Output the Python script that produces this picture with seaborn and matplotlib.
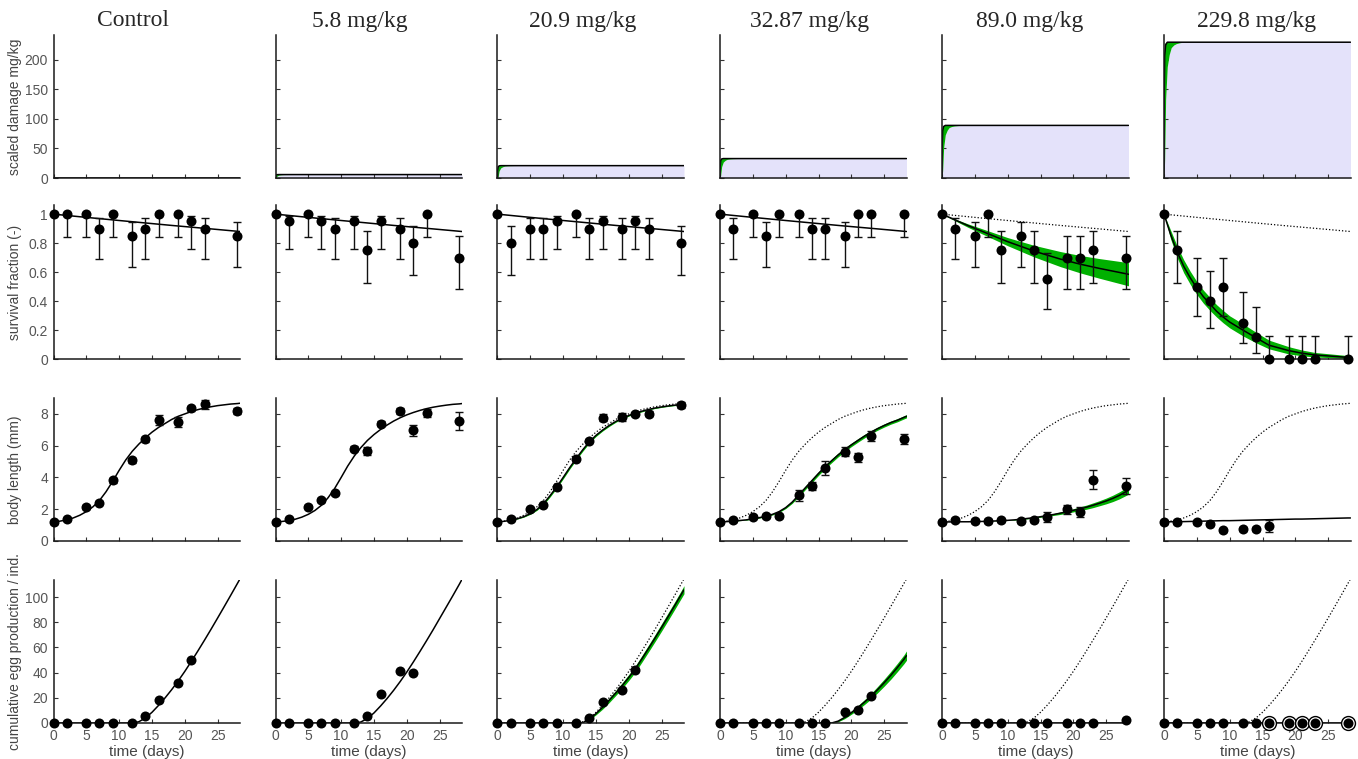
import numpy as np
import pandas as pd
import matplotlib
matplotlib.use("Agg")
import matplotlib.pyplot as plt
import seaborn as sns

titles = ["Control", "5.8 mg/kg", "20.9 mg/kg", "32.87 mg/kg", "89.0 mg/kg", "229.8 mg/kg"]
doses = [0, 5.8, 20.9, 32.87, 89.0, 229.8]
ylabels = ["scaled damage mg/kg", "survival fraction (-)", "body length (mm)",
           "cumulative egg production / ind."]

t_obs = [0, 2, 5, 7, 9, 12, 14, 16, 19, 21, 23, 28]

# ---- scaled damage (fraction of exposure level) ----
t_dam = [0, 0.03, 0.1, 0.25, 0.5, 0.8, 1.1, 1.5, 1.9, 2.5, 3.1, 28.4]
dam_mid = [0, 0.6, 0.9, 0.98, 1, 1, 1, 1, 1, 1, 1, 1]
dam_lo = [0, 0.03, 0.14, 0.58, 0.82, 0.91, 0.96, 0.98, 0.99, 0.997, 1, 1]
dam_hi = [0, 0.9, 0.99, 1, 1, 1, 1, 1, 1, 1, 1, 1]

# ---- survival ----
t_sm = [0, 2, 4, 7, 10, 14, 18, 21, 24, 28.4]
surv_bg = [1.0, 0.991, 0.982, 0.969, 0.956, 0.939, 0.922, 0.91, 0.898, 0.88]
surv_89_mod = [1, 0.96, 0.92, 0.865, 0.81, 0.745, 0.69, 0.655, 0.625, 0.585]
surv_89_lo = [1, 0.954, 0.908, 0.845, 0.782, 0.705, 0.638, 0.595, 0.557, 0.505]
surv_89_hi = [1, 0.966, 0.932, 0.885, 0.838, 0.785, 0.742, 0.715, 0.693, 0.665]
t_s229 = [0, 1, 2, 3, 4, 5, 6, 7, 8, 9, 10, 12, 14, 16, 19, 21, 23, 28.4]
surv_229_mod = [1, 0.86, 0.74, 0.64, 0.56, 0.49, 0.43, 0.38, 0.33, 0.29, 0.255, 0.2,
                0.147, 0.095, 0.058, 0.04, 0.028, 0.01]
surv_229_lo = [1, 0.83, 0.70, 0.595, 0.515, 0.445, 0.385, 0.335, 0.29, 0.25, 0.215, 0.16,
               0.112, 0.07, 0.035, 0.022, 0.014, 0.003]
surv_229_hi = [1, 0.89, 0.78, 0.685, 0.605, 0.535, 0.475, 0.425, 0.375, 0.335, 0.298,
               0.243, 0.185, 0.13, 0.085, 0.062, 0.045, 0.022]

surv_obs = [
    [1, 1, 1, 0.9, 1, 0.85, 0.9, 1, 1, 0.95, 0.9, 0.85],
    [1, 0.95, 1, 0.95, 0.9, 0.95, 0.75, 0.95, 0.9, 0.8, 1, 0.7],
    [1, 0.8, 0.9, 0.9, 0.95, 1, 0.9, 0.95, 0.9, 0.95, 0.9, 0.8],
    [1, 0.9, 1, 0.85, 1, 1, 0.9, 0.9, 0.85, 1, 1, 1],
    [1, 0.9, 0.85, 1, 0.75, 0.85, 0.75, 0.55, 0.7, 0.7, 0.75, 0.7],
    [1, 0.75, 0.5, 0.4, 0.5, 0.25, 0.15, 0, 0, 0, 0, 0],
]
surv_lo = [
    [1, 0.84, 0.84, 0.69, 0.84, 0.635, 0.69, 0.84, 0.84, 0.76, 0.69, 0.635],
    [1, 0.76, 0.84, 0.76, 0.69, 0.76, 0.528, 0.76, 0.69, 0.58, 0.84, 0.48],
    [1, 0.58, 0.69, 0.69, 0.76, 0.84, 0.69, 0.76, 0.69, 0.76, 0.69, 0.58],
    [1, 0.69, 0.84, 0.635, 0.84, 0.84, 0.69, 0.69, 0.635, 0.84, 0.84, 0.84],
    [1, 0.69, 0.635, 0.84, 0.528, 0.635, 0.528, 0.342, 0.48, 0.48, 0.528, 0.48],
    [1, 0.528, 0.295, 0.214, 0.295, 0.109, 0.044, 0, 0, 0, 0, 0],
]
surv_hi = [
    [1, 1, 1, 0.97, 1, 0.947, 0.97, 1, 1, 0.99, 0.97, 0.947],
    [1, 0.99, 1, 0.99, 0.97, 0.99, 0.886, 0.99, 0.97, 0.916, 1, 0.85],
    [1, 0.916, 0.97, 0.97, 0.99, 1, 0.97, 0.99, 0.97, 0.99, 0.97, 0.916],
    [1, 0.97, 1, 0.947, 1, 1, 0.97, 0.97, 0.947, 1, 1, 1],
    [1, 0.97, 0.947, 1, 0.886, 0.947, 0.886, 0.73, 0.85, 0.85, 0.886, 0.85],
    [1, 0.886, 0.70, 0.61, 0.70, 0.465, 0.36, 0.158, 0.158, 0.158, 0.158, 0.158],
]

# ---- body length ----
t_len = [0, 1, 2, 3, 4, 5, 6, 7, 8, 9, 10, 11, 12, 13, 14, 15, 16, 17, 18, 19, 20,
         21, 22, 23, 24, 25, 26, 27, 28, 28.4]
len_mod = [
    [1.2, 1.25, 1.33, 1.45, 1.62, 1.85, 2.15, 2.55, 3.1, 3.75, 4.45, 5.1, 5.65, 6.1, 6.5,
     6.85, 7.15, 7.4, 7.65, 7.85, 8.0, 8.15, 8.27, 8.37, 8.45, 8.52, 8.57, 8.62, 8.65, 8.67],
    [1.2, 1.23, 1.28, 1.37, 1.5, 1.68, 1.92, 2.25, 2.72, 3.3, 4.0, 4.72, 5.35, 5.88, 6.33,
     6.7, 7.02, 7.3, 7.55, 7.76, 7.94, 8.09, 8.22, 8.33, 8.42, 8.49, 8.55, 8.6, 8.63, 8.65],
    [1.2, 1.24, 1.3, 1.4, 1.53, 1.72, 1.98, 2.35, 2.85, 3.4, 4.0, 4.62, 5.2, 5.75, 6.25,
     6.65, 6.98, 7.27, 7.52, 7.73, 7.9, 8.05, 8.17, 8.28, 8.37, 8.44, 8.5, 8.55, 8.59, 8.6],
    [1.2, 1.22, 1.25, 1.29, 1.33, 1.4, 1.47, 1.56, 1.68, 1.85, 2.1, 2.45, 2.9, 3.35, 3.8,
     4.25, 4.67, 5.05, 5.42, 5.75, 6.05, 6.33, 6.6, 6.85, 7.07, 7.27, 7.45, 7.6, 7.78, 7.85],
    [1.2, 1.2, 1.2, 1.21, 1.21, 1.22, 1.23, 1.24, 1.26, 1.28, 1.3, 1.33, 1.37, 1.42, 1.47,
     1.53, 1.6, 1.67, 1.75, 1.84, 1.93, 2.03, 2.13, 2.25, 2.38, 2.52, 2.68, 2.87, 3.1, 3.2],
    [1.2, 1.21, 1.22, 1.22, 1.23, 1.24, 1.25, 1.26, 1.27, 1.28, 1.28, 1.29, 1.3, 1.31, 1.32,
     1.33, 1.34, 1.35, 1.36, 1.37, 1.38, 1.38, 1.39, 1.4, 1.41, 1.42, 1.43, 1.44, 1.45, 1.45],
]
len_band = [
    None, None,
    [0, 0, 0.01, 0.02, 0.03, 0.04, 0.05, 0.07, 0.08, 0.09, 0.09, 0.09, 0.09, 0.09, 0.08,
     0.07, 0.06, 0.06, 0.05, 0.05, 0.04, 0.04, 0.04, 0.03, 0.03, 0.03, 0.03, 0.03, 0.03, 0.03],
    [0, 0, 0.01, 0.01, 0.02, 0.02, 0.03, 0.03, 0.04, 0.05, 0.06, 0.08, 0.1, 0.11, 0.12,
     0.12, 0.12, 0.12, 0.12, 0.12, 0.11, 0.11, 0.11, 0.1, 0.1, 0.1, 0.1, 0.1, 0.1, 0.1],
    [0, 0, 0, 0, 0, 0, 0, 0, 0.01, 0.01, 0.01, 0.02, 0.02, 0.03, 0.03, 0.04, 0.05, 0.06,
     0.08, 0.09, 0.1, 0.12, 0.13, 0.15, 0.16, 0.18, 0.2, 0.22, 0.24, 0.25],
    None,
]
len_obs = [
    [1.19, 1.36, 2.14, 2.41, 3.83, 5.09, 6.41, 7.6, 7.5, 8.36, 8.6, 8.19],
    [1.19, 1.36, 2.16, 2.58, 3.0, 5.82, 5.68, 7.39, 8.19, 6.97, 8.06, 7.56],
    [1.19, 1.4, 1.99, 2.28, 3.41, 5.19, 6.3, 7.77, 7.81, 8.02, 8.02, 8.56],
    [1.19, 1.3, 1.53, 1.57, 1.57, 2.87, 3.48, 4.59, 5.63, 5.26, 6.6, 6.43],
    [1.17, 1.32, 1.26, 1.26, 1.3, 1.26, 1.3, 1.51, 1.99, 1.84, 3.87, 3.46],
    [1.17, 1.17, 1.17, 1.09, 0.67, 0.75, 0.75, 0.94],
]
len_err = [
    [0.1, 0.1, 0.1, 0.1, 0.15, 0.15, 0.15, 0.3, 0.3, 0.15, 0.3, 0.2],
    [0.1, 0.1, 0.1, 0.1, 0.1, 0.15, 0.25, 0.15, 0.2, 0.35, 0.25, 0.55],
    [0.1, 0.1, 0.1, 0.1, 0.1, 0.1, 0.1, 0.2, 0.25, 0.12, 0.15, 0.2],
    [0.1, 0.1, 0.1, 0.1, 0.1, 0.35, 0.25, 0.45, 0.3, 0.3, 0.3, 0.3],
    [0.1, 0.1, 0.1, 0.1, 0.1, 0.1, 0.1, 0.3, 0.3, 0.3, 0.6, 0.5],
    [0.1, 0.1, 0.1, 0.1, 0.1, 0.1, 0.1, 0.4],
]

# ---- cumulative eggs ----
t_egg = [0, 12, 13, 14, 15, 16, 17, 18, 19, 20, 21, 22, 23, 24, 25, 26, 27, 28, 28.4]
egg_mod = [
    [0, 0, 1, 4, 8.5, 14, 20, 26.5, 33.5, 41, 49, 57.3, 65.8, 74.5, 83.4, 92.4, 101.5, 110.7, 114.4],
    [0, 0, 0.8, 3.6, 8, 13.5, 19.5, 26, 33, 40.5, 48.5, 56.8, 65.3, 74, 83, 92, 101, 110.2, 114],
    [0, 0, 0.3, 3, 7.5, 12.5, 18, 23.8, 29.8, 36.2, 43, 51, 59.2, 67.5, 76, 84.6, 93.3, 102.2, 105.8],
    [0, 0, 0, 0, 0, 0, 0, 1.5, 4.5, 8.2, 12.2, 16.6, 21.2, 26.5, 32, 37.8, 44, 50.5, 53.5],
    [0, 0, 0, 0, 0, 0, 0, 0, 0, 0, 0, 0, 0, 0, 0, 0, 0, 0, 0],
    [0, 0, 0, 0, 0, 0, 0, 0, 0, 0, 0, 0, 0, 0, 0, 0, 0, 0, 0],
]
egg_band = [
    None, None,
    [0, 0, 0, 0.5, 1, 1.5, 1.8, 2, 2.2, 2.4, 2.5, 2.6, 2.7, 2.8, 2.9, 3, 3, 3.1, 3.2],
    [0, 0, 0, 0, 0, 0, 0, 0.5, 1, 1.3, 1.6, 1.9, 2.2, 2.5, 2.8, 3.1, 3.3, 3.5, 3.7],
    None, None,
]
egg_t_obs = [t_obs[:10], t_obs[:10], t_obs[:10], t_obs[:11], t_obs, t_obs]
egg_obs = [
    [0, 0, 0, 0, 0, 0, 5.3, 18, 32, 50],
    [0, 0, 0, 0, 0, 0, 5.3, 23.4, 41.2, 39.9],
    [0, 0, 0, 0, 0, 0, 4, 16.8, 26, 42],
    [0, 0, 0, 0, 0, 0, 0, 0, 8.5, 10.4, 21.3],
    [0, 0, 0, 0, 0, 0, 0, 0, 0, 0, 0, 2],
    [0, 0, 0, 0, 0, 0, 0, 0, 0, 0, 0, 0],
]
egg_ring_t = [16, 19, 21, 23, 28]
egg_ring_y = [0, 0, 0, 0, 0]

GREEN = "#00b000"
LAV = "#e4e2fa"
DOT = (0, (1, 1.6))

sns.set_style("ticks")
plt.rcParams["font.family"] = ["Liberation Sans", "DejaVu Sans"]

W, H = 1358, 759
fig = plt.figure(figsize=(W / 100, H / 100), dpi=100)
col_left = [53.5, 275.5, 497.5, 720, 942, 1164]
rows = [(35, 178), (205, 359), (398, 541), (580, 723)]
axw = 186.5
title_x = [133, 360, 583, 810, 1030, 1257]

ylims = [(0, 242), (0, 1.063), (0, 9), (0, 113.5)]
yticks = [[0, 50, 100, 150, 200], [0, 0.2, 0.4, 0.6, 0.8, 1],
          [0, 2, 4, 6, 8], [0, 20, 40, 60, 80, 100]]


def line(ax, x, y, **kw):
    sns.lineplot(x=x, y=y, ax=ax, color="k", sort=False, estimator=None,
                 lw=kw.pop("lw", 1.1), **kw)


def band(ax, x, lo, hi):
    ax.fill_between(x, lo, hi, color=GREEN, lw=0, zorder=1)


def points(ax, x, y, lo=None, hi=None):
    if lo is not None:
        y_ = np.array(y)
        ax.errorbar(x, y, yerr=[y_ - np.array(lo), np.array(hi) - y_], fmt="none",
                    ecolor="#111", elinewidth=1, capsize=2.6, capthick=1,
                    clip_on=False, zorder=4)
    sns.scatterplot(x=x, y=y, ax=ax, color="k", s=52, edgecolor="k", linewidth=0,
                    zorder=5, clip_on=False)


for j in range(6):
    for r in range(4):
        top, bot = rows[r]
        ax = fig.add_axes([col_left[j] / W, 1 - bot / H, axw / W, (bot - top) / H])
        ax.set_xlim(0, 28.4)
        ax.set_ylim(*ylims[r])
        ax.set_xticks([0, 5, 10, 15, 20, 25])
        ax.set_yticks(yticks[r])
        ax.yaxis.set_major_formatter(plt.FuncFormatter(lambda v, p: "%g" % v))
        sns.despine(ax=ax)
        for s in ["left", "bottom"]:
            ax.spines[s].set_linewidth(1.1)
            ax.spines[s].set_color("#1a1a1a")
        ax.tick_params(direction="in", length=3, width=0.8, color="#333",
                       labelcolor="#555", labelsize=10, pad=4,
                       labelleft=(j == 0), labelbottom=(r == 3))

        if r == 0:
            c = doses[j]
            if c > 0:
                ax.fill_between(t_dam, 0, np.array(dam_lo) * c, color=LAV, lw=0, zorder=0)
                band(ax, t_dam, np.array(dam_lo) * c, np.array(dam_hi) * c)
            line(ax, t_dam, np.array(dam_mid) * c)
        elif r == 1:
            if j == 4:
                line(ax, t_sm, surv_bg, lw=0.9, linestyle=DOT)
                band(ax, t_sm, surv_89_lo, surv_89_hi)
                line(ax, t_sm, surv_89_mod)
            elif j == 5:
                line(ax, t_sm, surv_bg, lw=0.9, linestyle=DOT)
                band(ax, t_s229, surv_229_lo, surv_229_hi)
                line(ax, t_s229, surv_229_mod)
            else:
                line(ax, t_sm, surv_bg)
            points(ax, t_obs, surv_obs[j], surv_lo[j], surv_hi[j])
        elif r == 2:
            if j >= 2:
                line(ax, t_len, len_mod[0], lw=0.9, linestyle=DOT)
            if len_band[j] is not None:
                m = np.array(len_mod[j])
                b = np.array(len_band[j])
                band(ax, t_len, m - b, m + b)
            line(ax, t_len, len_mod[j])
            n = len(len_obs[j])
            y = np.array(len_obs[j])
            e = np.array(len_err[j])
            points(ax, t_obs[:n], len_obs[j], y - e, y + e)
        else:
            if j >= 2:
                line(ax, t_egg, egg_mod[0], lw=0.9, linestyle=DOT)
            if egg_band[j] is not None:
                m = np.array(egg_mod[j])
                b = np.array(egg_band[j])
                band(ax, t_egg, m - b, m + b)
            line(ax, t_egg, egg_mod[j], lw=1.1)
            if j == 5:
                ax.scatter(egg_ring_t, egg_ring_y, s=100, facecolor="white",
                           edgecolor="k", linewidth=1.0, zorder=4, clip_on=False)
            points(ax, egg_t_obs[j], egg_obs[j])
            ax.set_xlabel("time (days)", fontsize=11, color="#444", labelpad=2)

        if j == 0:
            ax.set_ylabel(ylabels[r], fontsize=10, color="#444")
            ax.yaxis.set_label_coords(-0.17, 0.5)

for j in range(6):
    fig.text(title_x[j] / W, 1 - 21 / H, titles[j], ha="center", va="center",
             fontsize=17, family=["Liberation Serif", "DejaVu Serif"])

fig.savefig("out.png", dpi=100, facecolor="white")
